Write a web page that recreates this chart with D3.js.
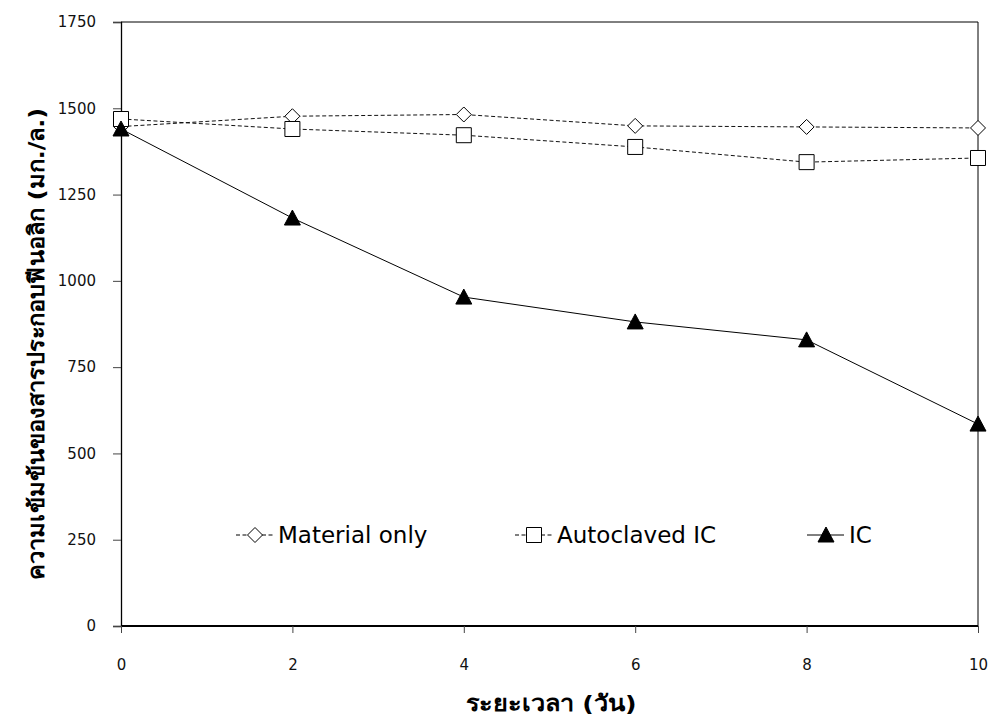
<!DOCTYPE html>
<html>
<head>
<meta charset="utf-8">
<script src="https://cdn.jsdelivr.net/npm/d3@7/dist/d3.min.js"></script>
<style>
  html, body { margin: 0; padding: 0; background: #fff; }
  svg { display: block; }
</style>
</head>
<body>
<div id="chart"></div>
<script>
// Sampling days and measured concentrations (mg/L)
const days = [0, 2, 4, 6, 8, 10];
const materialOnly = [1447, 1477, 1482, 1449, 1446, 1443];
const autoclavedIC = [1469, 1440, 1422, 1388, 1344, 1356];
const icValues = [1440, 1182, 953, 881, 829, 585];
const yTicks = [0, 250, 500, 750, 1000, 1250, 1500, 1750];
const xTicks = [0, 2, 4, 6, 8, 10];
const seriesNames = ["Material only", "Autoclaved IC", "IC"];

const W = 991, H = 719;
const plotLeft = 121, plotRight = 978, plotTop = 22, plotBottom = 626;
const FONT = "'DejaVu Sans', 'Noto Sans', sans-serif";

const svg = d3.select("#chart").append("svg")
  .attr("width", W).attr("height", H)
  .style("font-family", FONT);

const x = d3.scaleLinear().domain([0, 10]).range([plotLeft, plotRight]);
const y = d3.scaleLinear().domain([0, 1750]).range([plotBottom, plotTop]);

// Plot frame: top and right borders
svg.append("line").attr("x1", x(0)).attr("x2", x(10)).attr("y1", y(1750)).attr("y2", y(1750))
  .attr("stroke", "#000").attr("stroke-width", 1);
svg.append("line").attr("x1", x(10)).attr("x2", x(10)).attr("y1", y(1750)).attr("y2", y(0))
  .attr("stroke", "#000").attr("stroke-width", 1);

// Y axis
const yAxis = svg.append("g").attr("transform", `translate(${plotLeft},0)`)
  .call(d3.axisLeft(y).tickValues(yTicks).tickSize(8).tickPadding(17).tickFormat(d3.format("d")));
yAxis.attr("font-family", null).attr("font-size", null);
yAxis.select(".domain").attr("stroke", "#000").attr("stroke-width", 1.3);
yAxis.selectAll(".tick line").attr("stroke", "#444");
yAxis.selectAll("text").style("font-family", FONT).style("font-size", "15px").attr("fill", "#111");

// X axis
const xAxis = svg.append("g").attr("transform", `translate(0,${plotBottom})`)
  .call(d3.axisBottom(x).tickValues(xTicks).tickSize(7).tickPadding(26).tickFormat(d3.format("d")));
xAxis.attr("font-family", null).attr("font-size", null);
xAxis.select(".domain").attr("stroke", "#000").attr("stroke-width", 2.2).attr("d", `M${plotLeft},0H${plotRight}`);
xAxis.selectAll(".tick line").attr("stroke", "#444");
xAxis.selectAll("text").style("font-family", FONT).style("font-size", "15px").attr("fill", "#111");

// Axis titles
svg.append("text").attr("x", 551).attr("y", 711)
  .attr("text-anchor", "middle").attr("font-size", 22).attr("font-weight", "bold")
  .attr("textLength", 171).attr("lengthAdjust", "spacingAndGlyphs")
  .text("ระยะเวลา (วัน)");
svg.append("text")
  .attr("transform", "translate(44,344) rotate(-90)")
  .attr("text-anchor", "middle").attr("font-size", 22).attr("font-weight", "bold")
  .attr("textLength", 472).attr("lengthAdjust", "spacingAndGlyphs")
  .text("ความเข้มข้นของสารประกอบฟีนอลิก (มก./ล.)");

const line = d3.line().x((d, i) => x(days[i])).y(d => y(d));

// Series lines
svg.append("path").datum(materialOnly).attr("d", line).attr("fill", "none")
  .attr("stroke", "#111").attr("stroke-width", 1).attr("stroke-dasharray", "4,2.5");
svg.append("path").datum(autoclavedIC).attr("d", line).attr("fill", "none")
  .attr("stroke", "#111").attr("stroke-width", 1).attr("stroke-dasharray", "4,2.5");
svg.append("path").datum(icValues).attr("d", line).attr("fill", "none")
  .attr("stroke", "#000").attr("stroke-width", 1);

const diamond = (cx, cy) => `M${cx},${cy - 7.5}L${cx + 7.5},${cy}L${cx},${cy + 7.5}L${cx - 7.5},${cy}Z`;
const square = (cx, cy) => `M${cx - 7.5},${cy - 7.5}h15v15h-15Z`;
const tri = (cx, cy) => `M${cx},${cy - 8}L${cx + 8},${cy + 7}L${cx - 8},${cy + 7}Z`;

// Markers
svg.append("g").selectAll("path").data(materialOnly).join("path")
  .attr("d", (d, i) => diamond(x(days[i]), y(d))).attr("fill", "#fff").attr("stroke", "#000").attr("stroke-width", 1);
svg.append("g").selectAll("path").data(autoclavedIC).join("path")
  .attr("d", (d, i) => square(x(days[i]), y(d))).attr("fill", "#fff").attr("stroke", "#000").attr("stroke-width", 1);
svg.append("g").selectAll("path").data(icValues).join("path")
  .attr("d", (d, i) => tri(x(days[i]), y(d))).attr("fill", "#000").attr("stroke", "#000").attr("stroke-width", 1);

// Legend
const legendY = 535;
const legend = [
  { name: seriesNames[0], x0: 236, dash: "4,2.5", marker: diamond, fill: "#fff" },
  { name: seriesNames[1], x0: 515, dash: "4,2.5", marker: square, fill: "#fff" },
  { name: seriesNames[2], x0: 807, dash: null, marker: tri, fill: "#000" }
];
legend.forEach(l => {
  svg.append("line").attr("x1", l.x0).attr("x2", l.x0 + 37).attr("y1", legendY).attr("y2", legendY)
    .attr("stroke", "#000").attr("stroke-width", 1).attr("stroke-dasharray", l.dash);
  svg.append("path").attr("d", l.marker(l.x0 + 19, legendY)).attr("fill", l.fill)
    .attr("stroke", "#000").attr("stroke-width", 1);
  svg.append("text").attr("x", l.x0 + 42).attr("y", legendY + 8).attr("font-size", 23).text(l.name);
});
</script>
</body>
</html>
